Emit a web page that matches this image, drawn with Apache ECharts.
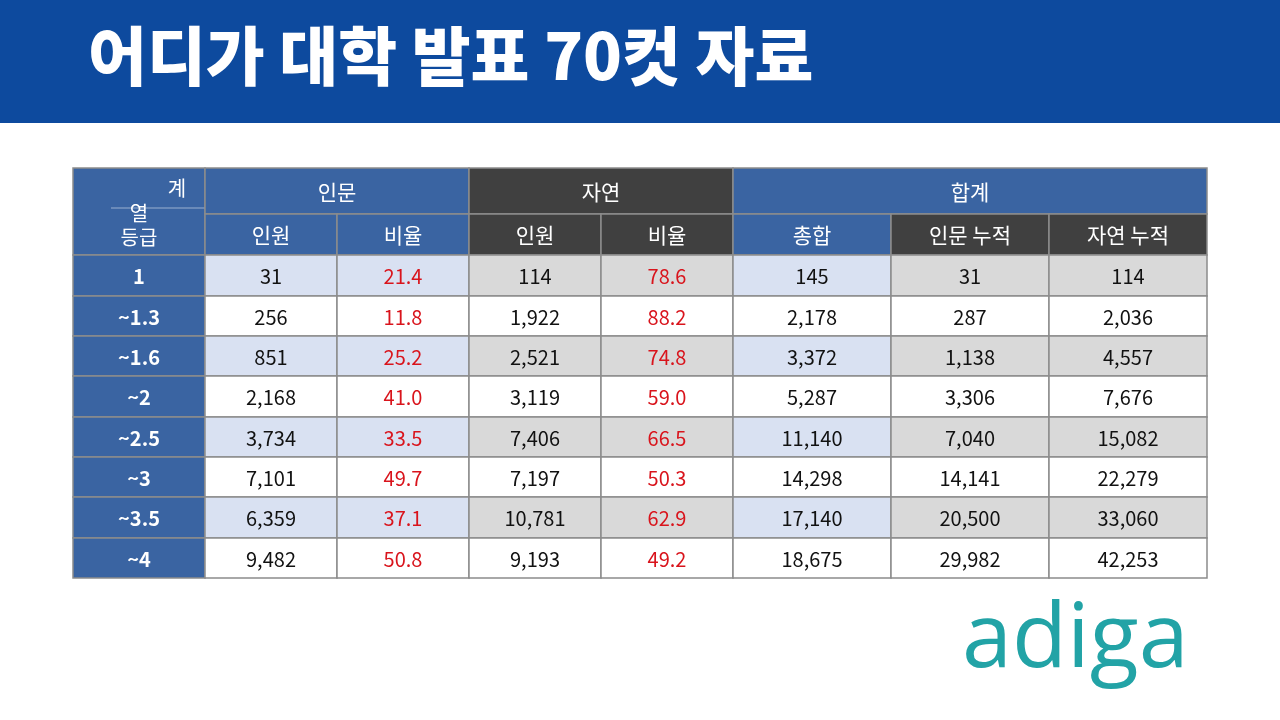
<!DOCTYPE html>
<html><head><meta charset="utf-8">
<script src="https://cdn.jsdelivr.net/npm/echarts@6/dist/echarts.min.js"></script>
<style>html,body{margin:0;padding:0;background:#fff}#c{width:1280px;height:720px}</style>
</head><body><div id="c"></div>
<script>
const grades = ['1','~1.3','~1.6','~2','~2.5','~3','~3.5','~4'];
const subHeaders = ['인원','비율','인원','비율','총합','인문 누적','자연 누적'];
const humPeople = ['31','256','851','2,168','3,734','7,101','6,359','9,482'];
const humRatio = ['21.4','11.8','25.2','41.0','33.5','49.7','37.1','50.8'];
const natPeople = ['114','1,922','2,521','3,119','7,406','7,197','10,781','9,193'];
const natRatio = ['78.6','88.2','74.8','59.0','66.5','50.3','62.9','49.2'];
const total = ['145','2,178','3,372','5,287','11,140','14,298','17,140','18,675'];
const humCum = ['31','287','1,138','3,306','7,040','14,141','20,500','29,982'];
const natCum = ['114','2,036','4,557','7,676','15,082','22,279','33,060','42,253'];

const colW = [132,132,132,132,132,158,158,158];
const rowH = [46,41,41,40,40,41,40,40,41,40];
const xb=[0]; colW.forEach(w=>xb.push(xb[xb.length-1]+w));
const yb=[0]; rowH.forEach(h=>yb.push(yb[yb.length-1]+h));
const BLUE='#3A64A2', DARK='#404040', LB='#D9E1F2', GR='#D9D9D9', RED='#D9141C';
const cells=[];
function add(c0,c1,r0,r1,text,fill,color,size,extra){cells.push({value:[xb[c0],xb[c1],yb[r0],yb[r1]],text,fill,color,size,extra});}
add(0,1,0,2,'',BLUE,'#fff',21,'corner');
add(1,3,0,1,'인문',BLUE,'#fff',21);
add(3,5,0,1,'자연',DARK,'#fff',21);
add(5,8,0,1,'합계',BLUE,'#fff',21);
const subFill=[BLUE,BLUE,DARK,DARK,BLUE,DARK,DARK];
subHeaders.forEach((t,i)=>add(i+1,i+2,1,2,t,subFill[i],'#fff',21));
const cols=[humPeople,humRatio,natPeople,natRatio,total,humCum,natCum];
const band=[LB,LB,GR,GR,LB,GR,GR];
grades.forEach((g,r)=>{
  add(0,1,r+2,r+3,g,BLUE,'#fff',20,'bold');
  cols.forEach((arr,c)=>add(c+1,c+2,r+2,r+3,arr[r],r%2===0?band[c]:'#fff',(c===1||c===3)?RED:'#111',20));
});
const FONT='"Noto Sans CJK KR", "Noto Sans", sans-serif';
const chart=echarts.init(document.getElementById('c'));
chart.setOption({
  animation:false,
  grid:{left:73,top:168,width:1134,height:410},
  xAxis:{type:'value',min:0,max:1134,show:false},
  yAxis:{type:'value',min:0,max:410,inverse:true,show:false},
  graphic:[
    {type:'rect',shape:{x:0,y:0,width:1280,height:123},style:{fill:'#0D4A9E'}},
    {type:'text',left:88,top:24,style:{text:'어디가 대학 발표 70컷 자료',fill:'#fff',font:'900 64px '+FONT}},
    {type:'text',left:962,top:596,style:{text:'adiga',fill:'#22A3A6',font:'500 90px "Open Sans", sans-serif'}}
  ],
  series:[{type:'custom',coordinateSystem:'cartesian2d',
    data:cells.map(c=>c.value),
    renderItem:(params,api)=>{
      const c=cells[params.dataIndex];
      const p0=api.coord([c.value[0],c.value[2]]), p1=api.coord([c.value[1],c.value[3]]);
      const w=p1[0]-p0[0], h=p1[1]-p0[1];
      const ch=[{type:'rect',shape:{x:p0[0],y:p0[1],width:w,height:h},style:{fill:c.fill,stroke:'#8C8C8C',lineWidth:1.5}}];
      if(c.extra==='corner'){
        ch.push({type:'text',style:{text:'계',x:p0[0]+104,y:p0[1]+20,align:'center',verticalAlign:'middle',fill:'#fff',font:'20px '+FONT}});
        ch.push({type:'line',shape:{x1:p0[0]+38,y1:p0[1]+40,x2:p1[0],y2:p0[1]+40},style:{stroke:'#9AB0D0',lineWidth:1}});
        ch.push({type:'text',style:{text:'열',x:p0[0]+66,y:p0[1]+45,align:'center',verticalAlign:'middle',fill:'#fff',font:'20px '+FONT}});
        ch.push({type:'text',style:{text:'등급',x:p0[0]+66,y:p0[1]+69,align:'center',verticalAlign:'middle',fill:'#fff',font:'20px '+FONT}});
      } else {
        ch.push({type:'text',style:{text:c.text,x:p0[0]+w/2,y:p0[1]+h/2+1,align:'center',verticalAlign:'middle',fill:c.color,font:(c.extra==='bold'?'bold ':'')+c.size+'px '+FONT}});
      }
      return {type:'group',children:ch};
    }}]
});
</script></body></html>
